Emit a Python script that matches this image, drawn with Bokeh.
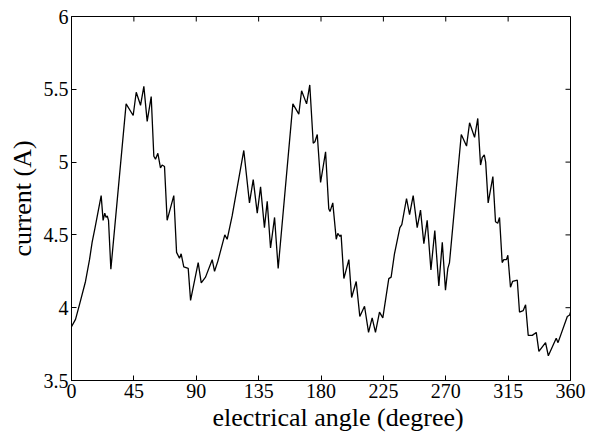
from bokeh.plotting import figure
from bokeh.models import Range1d, FixedTicker, Title
from bokeh.embed import file_html
from bokeh.resources import INLINE

# electrical angle (degree)
angle = [0, 2.9, 6, 10.1, 13, 14.9, 17, 21.4, 22.8, 24, 24.9, 25.8, 26.7, 28.4,
         39.4, 44.5, 46.7, 49.8, 52.2, 54.6, 57.5, 59.4, 60.6, 62.3, 64.2, 65.4,
         67.1, 69, 73.8, 75.8, 77.9, 79.1, 81, 84.2, 85.9, 91.4, 93.6, 96.7, 101.5,
         103.2, 105.6, 110.6, 112.3, 115.9, 124.3, 128.4, 131.1, 134, 136.4, 139.2,
         141.2, 143.6, 146.5, 149.1, 159.7, 164, 166, 169.6, 171.9, 174.4, 175.6,
         177.3, 179.7, 183.3, 185.6, 186.5, 188.5, 191, 192.1, 193.6, 194.5, 196.5,
         200.1, 202.1, 205.4, 208, 211.4, 214.3, 216.9, 219.3, 222.2, 224.6, 228.9,
         230.6, 233, 236.9, 238.3, 241.7, 243.9, 246.5, 249.4, 251.8, 254.2, 256.6,
         259.3, 262.1, 265, 267.5, 269.8, 271.5, 272.7, 281.2, 285, 287.2, 290.8,
         293.1, 295.1, 296.3, 297.8, 298.8, 300.6, 304, 305.9, 307.5, 308.8, 310.7,
         311.9, 313.8, 314.8, 316.7, 318.2, 321.6, 323.2, 325.9, 327.6, 329.5,
         332.4, 335.3, 337.2, 342, 344, 349.7, 351, 357.7, 359.4, 360]
# current (A)
current = [3.87, 3.92, 4.03, 4.18, 4.33, 4.45, 4.55, 4.77, 4.60, 4.65, 4.62, 4.63, 4.60, 4.265,
           5.40, 5.32, 5.48, 5.39, 5.52, 5.28, 5.45, 5.04, 5.02, 5.06, 4.96, 4.98,
           4.97, 4.60, 4.77, 4.38, 4.34, 4.37, 4.28, 4.27, 4.05, 4.31, 4.17, 4.21, 4.33,
           4.25, 4.32, 4.50, 4.47, 4.63, 5.08, 4.72, 4.88, 4.65, 4.83, 4.55,
           4.73, 4.41, 4.62, 4.27, 5.40, 5.33, 5.49, 5.40, 5.53, 5.13, 5.14,
           5.19, 4.86, 5.07, 4.68, 4.66, 4.72, 4.47, 4.51, 4.49, 4.50, 4.20,
           4.33, 4.07, 4.18, 3.94, 4.01, 3.83, 3.93, 3.83, 3.97, 3.93, 4.20,
           4.21, 4.37, 4.55, 4.57, 4.75, 4.64, 4.77, 4.55, 4.67, 4.44, 4.60,
           4.26, 4.53, 4.15, 4.45, 4.12, 4.27, 4.31, 5.19, 5.11, 5.27, 5.17,
           5.30, 4.98, 5.03, 5.05, 5.00, 4.72, 4.90, 4.59, 4.58, 4.62, 4.31,
           4.33, 4.33, 4.36, 4.14, 4.18, 4.19, 3.97, 3.98, 4.02, 3.81,
           3.81, 3.83, 3.70, 3.76, 3.67, 3.79, 3.76, 3.94, 3.95, 3.97]

x_ticks = [0, 45, 90, 135, 180, 225, 270, 315, 360]
y_ticks = [3.5, 4, 4.5, 5, 5.5, 6]
y_tick_labels = ["3.5", "4", "4.5", "5", "5.5", "6"]
x_title = "electrical angle (degree)"
y_title = "current (A)"

FONT = "Liberation Serif"
X0, X1, Y0, Y1 = 0, 360, 3.5, 6
FW, FH = 499, 364          # frame size in px
TICK = 5                    # inward tick length in px

p = figure(width=600, height=436, output_backend="svg", toolbar_location=None,
           x_range=Range1d(X0, X1), y_range=Range1d(Y0, Y1),
           min_border_left=71, min_border_right=30, min_border_top=16,
           min_border_bottom=56)
p.outline_line_color = "black"
p.outline_line_width = 1
p.grid.visible = False
p.background_fill_color = "white"
p.border_fill_color = "white"

p.line(angle, current, line_color="black", line_width=1.3)

# box ticks on the top and right edges (inward, like the bottom/left axes)
dy = TICK * (Y1 - Y0) / FH
dx = TICK * (X1 - X0) / FW
p.segment(x0=x_ticks, y0=[Y1] * len(x_ticks), x1=x_ticks, y1=[Y1 - dy] * len(x_ticks),
          line_color="black", line_width=1)
p.segment(x0=[X1] * len(y_ticks), y0=y_ticks, x1=[X1 - dx] * len(y_ticks), y1=y_ticks,
          line_color="black", line_width=1)

p.xaxis.ticker = FixedTicker(ticks=x_ticks)
p.yaxis.ticker = FixedTicker(ticks=y_ticks)
p.yaxis.major_label_overrides = {t: s for t, s in zip(y_ticks, y_tick_labels)}
p.yaxis.axis_label = y_title

for ax in [p.xaxis[0], p.yaxis[0]]:
    ax.major_tick_in = TICK
    ax.major_tick_out = 0
    ax.minor_tick_line_color = None
    ax.axis_line_color = "black"
    ax.major_tick_line_color = "black"
    ax.major_label_text_font = FONT
    ax.major_label_text_font_size = "20px"
    ax.major_label_text_color = "black"
    ax.axis_label_text_font = FONT
    ax.axis_label_text_font_size = "26px"
    ax.axis_label_text_font_style = "normal"
    ax.axis_label_text_color = "black"
    ax.major_label_standoff = 3
p.yaxis.axis_label_standoff = 4

# x-axis title in the panel below the axis, a little right of centre as in the reference
xt = Title(text=x_title, align="left", offset=141, standoff=0,
           text_font=FONT, text_font_size="26px", text_font_style="normal",
           text_color="black")
p.add_layout(xt, "below")

open("out.html", "w").write(file_html(p, INLINE))
